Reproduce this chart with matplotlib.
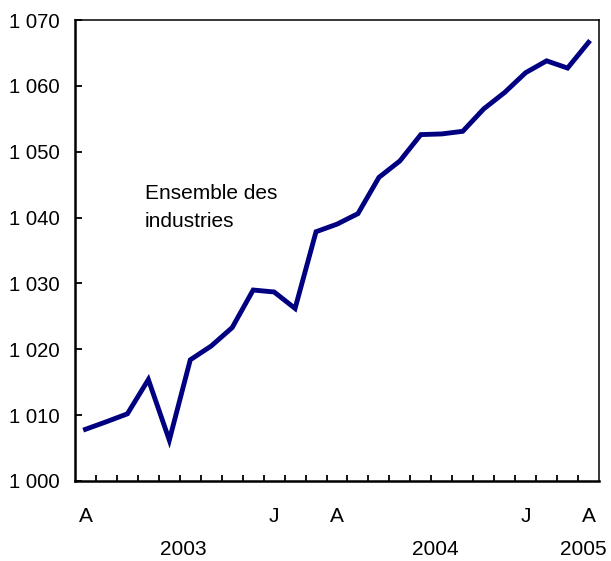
import matplotlib
matplotlib.use("Agg")
import matplotlib.pyplot as plt
from matplotlib.transforms import blended_transform_factory

plt.rcParams['font.family'] = ['Liberation Sans', 'DejaVu Sans']

# Monthly values, April 2003 to April 2005
months = ["2003-04", "2003-05", "2003-06", "2003-07", "2003-08", "2003-09",
          "2003-10", "2003-11", "2003-12", "2004-01", "2004-02", "2004-03",
          "2004-04", "2004-05", "2004-06", "2004-07", "2004-08", "2004-09",
          "2004-10", "2004-11", "2004-12", "2005-01", "2005-02", "2005-03",
          "2005-04"]
values = [1007.85, 1009.0, 1010.2, 1015.4, 1006.2, 1018.4, 1020.5, 1023.3,
          1029.0, 1028.7, 1026.2, 1037.85, 1039.0, 1040.6, 1046.1, 1048.6,
          1052.6, 1052.7, 1053.1, 1056.5, 1059.0, 1062.0, 1063.8, 1062.7,
          1066.6]
month_tick_idx = [0, 9, 12, 21, 24]
month_tick_labels = ["A", "J", "A", "J", "A"]
year_labels = ["2003", "2004", "2005"]
year_label_pos = [4.65, 16.68, 23.75]
ytick_vals = [1000, 1010, 1020, 1030, 1040, 1050, 1060, 1070]
ytick_labels = ["1 000", "1 010", "1 020", "1 030", "1 040", "1 050", "1 060", "1 070"]
annotation = "Ensemble des\nindustries"

fig = plt.figure(figsize=(6.11, 5.61), dpi=100)
ax = fig.add_axes([75/611, 80/561, 524/611, 461/561])

x = list(range(len(values)))
ax.plot(x, values, color="#000080", linewidth=3.5, solid_joinstyle="miter")

ax.set_xlim(-0.5, len(values) - 0.5)
ax.set_ylim(1000, 1070)

ax.set_yticks(ytick_vals)
ax.set_yticklabels(ytick_labels, fontsize=14.6)
ax.set_xticks(month_tick_idx)
ax.set_xticklabels(month_tick_labels, fontsize=15)
ax.set_xticks([i + 0.5 for i in range(len(values) - 1)], minor=True)

ax.tick_params(axis='y', direction='in', length=5, width=1.3, pad=11)
ax.tick_params(axis='x', which='major', length=0, pad=19)
ax.tick_params(axis='x', which='minor', direction='in', length=4.5, width=1.3)

for s in ['left', 'bottom']:
    ax.spines[s].set_linewidth(1.8)
for s in ['top', 'right']:
    ax.spines[s].set_linewidth(1.1)

trans = blended_transform_factory(ax.transData, ax.transAxes)
for lab, pos in zip(year_labels, year_label_pos):
    ax.text(pos, -0.149, lab, transform=trans, ha='center', va='center', fontsize=15)

ax.text(0.1336, 0.594, annotation, transform=ax.transAxes, ha='left', va='center',
        fontsize=15, linespacing=1.6)

fig.savefig("out.png", dpi=100)
